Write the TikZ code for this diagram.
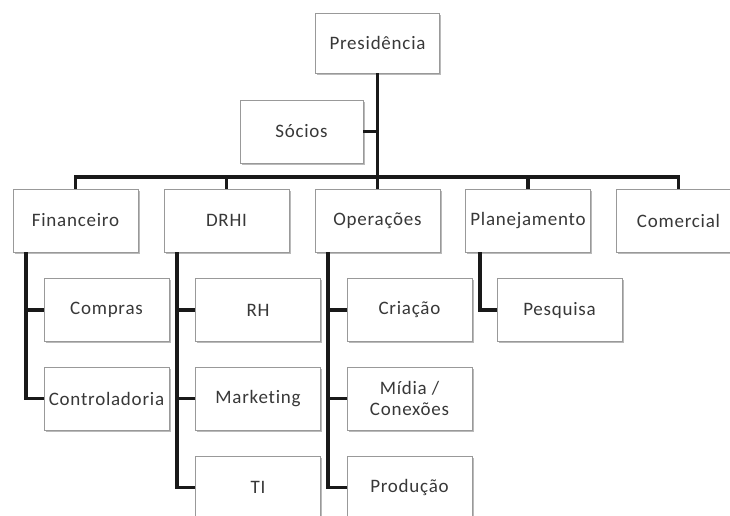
\documentclass[tikz,border=0pt]{standalone}
\usepackage{fontspec}
\setmainfont{Carlito}[LetterSpace=4,Ligatures={NoCommon}]
\usetikzlibrary{shadows}
\begin{document}
\begin{tikzpicture}[x=1pt,y=1pt,
  box/.style={draw=black!40,line width=0.9pt,fill=white,minimum width=125pt,minimum height=63pt,
    inner sep=1pt,align=center,text=black!78,font=\fontsize{19}{21}\selectfont,
    drop shadow={shadow xshift=1.5pt,shadow yshift=-1.5pt,opacity=0.45,fill=black!60}},
  conn/.style={line width=3.5pt,draw=black!90}]
\useasboundingbox (0,0) rectangle (730,-515);
\clip (0,0) rectangle (730,-515);
\fill[white] (0,0) rectangle (730,-515);
% top level
\node[box,minimum width=124pt,minimum height=60pt] (pres) at (377.5,-43) {Presidência};
\node[box,minimum width=123pt] (socios) at (301.5,-131.5) {Sócios};
% second level
\node[box] (fin)  at (75.5,-220.5) {Financeiro};
\node[box] (drhi) at (226.5,-220.5) {DRHI};
\node[box] (oper) at (377.5,-220.5) {Operações};
\node[box] (plan) at (528,-220.5) {Planejamento};
\node[box] (com)  at (678.5,-220.5) {Comercial};
% third level
\node[box] (compras) at (106.5,-310) {Compras};
\node[box] (contr)   at (106.5,-398.5) {Controladoria};
\node[box] (rh)      at (258,-310) {RH};
\node[box] (mkt)     at (258,-398.5) {Marketing};
\node[box] (ti)      at (258,-487.5) {TI};
\node[box] (cria)    at (409.5,-310) {Criação};
\node[box] (midia)   at (409.5,-398.5) {Mídia /\\Conexões};
\node[box] (prod)    at (409.5,-487.5) {Produção};
\node[box] (pesq)    at (559.5,-310) {Pesquisa};
% connectors
\coordinate (bar) at (377.5,-177);
\draw[conn] (pres.south) -- (oper.north);
\draw[conn] (socios.east) -- (socios.east -| pres.south);
\draw[conn] (fin.north) |- (bar) -| (com.north);
\draw[conn] (drhi.north) -- (drhi.north |- bar);
\draw[conn] (plan.north) -- (plan.north |- bar);
\draw[conn] ([xshift=-49.5pt]fin.south) |- (contr.west);
\draw[conn] (compras.west) -- ++(-18.5,0);
\draw[conn] ([xshift=-49.5pt]drhi.south) |- (ti.west);
\draw[conn] (rh.west) -- ++(-18.5,0);
\draw[conn] (mkt.west) -- ++(-18.5,0);
\draw[conn] ([xshift=-49.5pt]oper.south) |- (prod.west);
\draw[conn] (cria.west) -- ++(-18.5,0);
\draw[conn] (midia.west) -- ++(-18.5,0);
\draw[conn] ([xshift=-48pt]plan.south) |- (pesq.west);
\end{tikzpicture}
\end{document}
